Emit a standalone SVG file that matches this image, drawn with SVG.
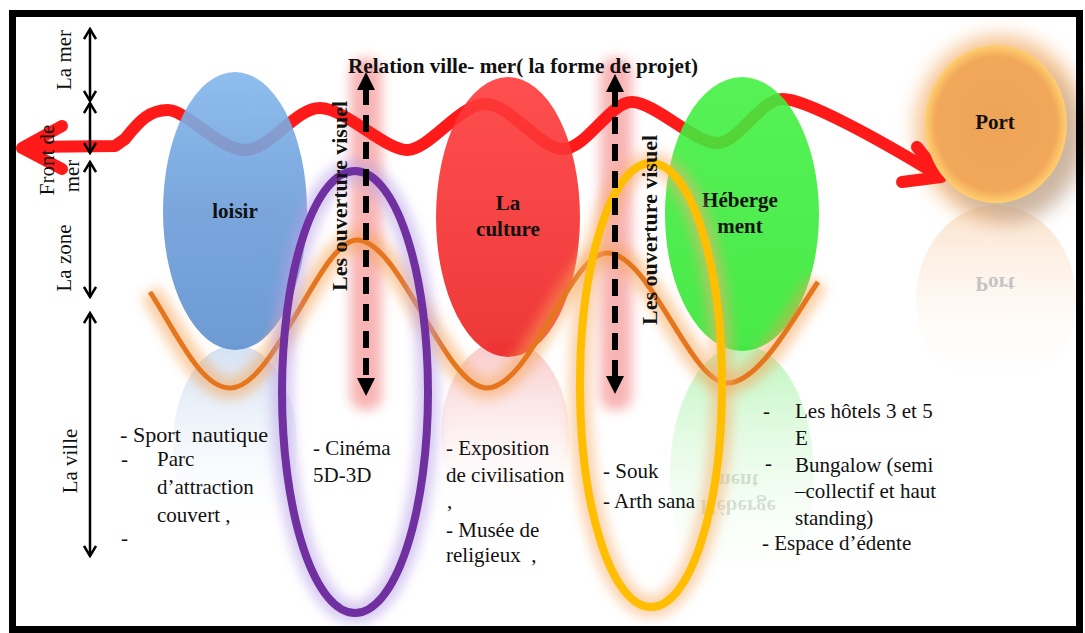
<svg xmlns="http://www.w3.org/2000/svg" width="1085" height="633" viewBox="0 0 1085 633">
<style>
.t{font-family:"Liberation Serif","Times New Roman",serif;font-size:21px;fill:#111;white-space:pre}
.b{font-weight:bold}
.lbl{font-family:"Liberation Serif","Times New Roman",serif;font-size:21px;font-weight:bold;fill:#111;text-anchor:middle}
.side{font-family:"Liberation Serif","Times New Roman",serif;font-size:21px;fill:#111;text-anchor:middle}
.dash{stroke:#000;stroke-width:6;stroke-dasharray:17 10;fill:none}
.va{stroke:#000;stroke-width:2.5;fill:none}
.mir{font-family:"Liberation Serif","Times New Roman",serif;font-size:21px;font-weight:bold;text-anchor:middle}
</style>
<defs>
<filter id="blur6" x="-50%" y="-50%" width="200%" height="200%"><feGaussianBlur stdDeviation="6"/></filter>
<filter id="blur10" x="-50%" y="-50%" width="200%" height="200%"><feGaussianBlur stdDeviation="10"/></filter>
<linearGradient id="gBlue" x1="0" y1="0" x2="0" y2="1"><stop offset="0" stop-color="#82b6ec"/><stop offset="0.5" stop-color="#6b9cd8"/><stop offset="1" stop-color="#5e90d0"/></linearGradient>
<linearGradient id="gRed" x1="0" y1="0" x2="0" y2="1"><stop offset="0" stop-color="#ff3b3b"/><stop offset="1" stop-color="#ec2222"/></linearGradient>
<linearGradient id="gGreen" x1="0" y1="0" x2="0" y2="1"><stop offset="0" stop-color="#3ff03f"/><stop offset="1" stop-color="#30e630"/></linearGradient>
<radialGradient id="gPort" cx="0.5" cy="0.5" r="0.5"><stop offset="0" stop-color="#eea456"/><stop offset="0.85" stop-color="#f2a85a"/><stop offset="1" stop-color="#ffd070"/></radialGradient>
<linearGradient id="rBlue" x1="0" y1="0" x2="0" y2="1"><stop offset="0" stop-color="#d3e1f3"/><stop offset="1" stop-color="#ffffff" stop-opacity="0"/></linearGradient>
<linearGradient id="rRed" x1="0" y1="0" x2="0" y2="1"><stop offset="0" stop-color="#f8c8c8"/><stop offset="1" stop-color="#ffffff" stop-opacity="0"/></linearGradient>
<linearGradient id="rGreen" x1="0" y1="0" x2="0" y2="1"><stop offset="0" stop-color="#bdf5bd"/><stop offset="1" stop-color="#ffffff" stop-opacity="0"/></linearGradient>
<linearGradient id="rPort" x1="0" y1="0" x2="0" y2="1"><stop offset="0" stop-color="#fbe2cc"/><stop offset="1" stop-color="#ffffff" stop-opacity="0"/></linearGradient>
<marker id="chev" viewBox="0 0 14 14" refX="12" refY="7" markerWidth="14" markerHeight="14" markerUnits="userSpaceOnUse" orient="auto-start-reverse"><path d="M2 1 L12 7 L2 13" fill="none" stroke="#000" stroke-width="2.5"/></marker>
<marker id="tri" viewBox="0 0 20 20" refX="2" refY="10" markerWidth="20" markerHeight="20" markerUnits="userSpaceOnUse" orient="auto-start-reverse"><path d="M0 1 L18 10 L0 19 Z" fill="#000"/></marker>
</defs>
<rect x="0" y="0" width="1085" height="633" fill="#fff"/>
<g id="reflections">
<ellipse cx="235" cy="445" rx="62" ry="100" fill="url(#rBlue)"/>
<ellipse cx="505" cy="435" rx="64" ry="95" fill="url(#rRed)"/>
<ellipse cx="742" cy="475" rx="72" ry="130" fill="url(#rGreen)"/>
<ellipse cx="996" cy="300" rx="80" ry="95" fill="url(#rPort)"/>
<g transform="translate(0,406) scale(1,-1)"><text class="mir" x="995" y="129" fill="#c4c4c4">Port</text></g>
<g transform="translate(0,702) scale(1,-1)" opacity="0.22"><text class="mir" x="738" y="202" fill="#5a7a5a">Héberge</text><text class="mir" x="736" y="228" fill="#5a7a5a">ment</text></g>
</g>
<g id="glows">
<rect x="350" y="58" width="32" height="352" rx="14" fill="#f05a5a" opacity="0.45" filter="url(#blur6)"/>
<rect x="600" y="58" width="32" height="352" rx="14" fill="#f05a5a" opacity="0.45" filter="url(#blur6)"/>
<ellipse cx="1000" cy="128" rx="84" ry="92" fill="#f3a65a" opacity="0.7" filter="url(#blur10)"/>
<ellipse cx="1012" cy="142" rx="70" ry="78" fill="#9aa6b8" opacity="0.45" filter="url(#blur10)"/>
</g>
<g id="connectors">
<path id="red-wave" d="M 28 147 L 115 146 L 125 139 C 140 120, 150 110, 168 110 S 220 150, 245 150 S 295 108, 320 108 S 385 150, 407 150 S 460 104, 485 104 S 540 149, 563 149 S 610 102, 632 102 S 695 143, 717 143 S 760 99, 783 99 C 806 99, 880 140, 936 174" fill="none" stroke="#ff1a1a" stroke-width="12" stroke-linejoin="round"/>
<path d="M 62 126 L 22 148 L 62 169" fill="none" stroke="#ff1a1a" stroke-width="12" stroke-linejoin="round" stroke-linecap="round"/>
<path d="M 917 147 L 941 177 L 902 182" fill="none" stroke="#ff1a1a" stroke-width="12" stroke-linejoin="round" stroke-linecap="round"/>
</g>
<g id="node-loisir">
<ellipse cx="235" cy="211" rx="72" ry="139" fill="url(#gBlue)" opacity="0.9"/>
<text class="lbl" x="235" y="218">loisir</text>
</g>
<g id="node-culture">
<ellipse cx="508" cy="217" rx="72" ry="140" fill="url(#gRed)" opacity="0.9"/>
<text class="lbl" x="508" y="210">La</text>
<text class="lbl" x="508" y="236">culture</text>
</g>
<g id="node-hebergement">
<ellipse cx="742" cy="214" rx="77" ry="137" fill="url(#gGreen)" opacity="0.88"/>
<text class="lbl" x="740" y="207">Héberge</text>
<text class="lbl" x="740" y="233">ment</text>
</g>
<g id="node-port">
<ellipse cx="996" cy="124" rx="71" ry="79" fill="url(#gPort)"/>
<text class="lbl" x="995" y="129">Port</text>
</g>
<g id="orange-wave">
<path d="M 150 292 C 175 330, 200 388, 230 388 C 275 388, 320 240, 357 240 C 400 240, 445 388, 487 388 C 530 388, 570 253, 607 253 C 650 253, 690 383, 727 383 C 760 383, 795 315, 818 282" fill="none" stroke="#f5a050" stroke-width="22" opacity="0.5" filter="url(#blur6)"/>
<path d="M 150 292 C 175 330, 200 388, 230 388 C 275 388, 320 240, 357 240 C 400 240, 445 388, 487 388 C 530 388, 570 253, 607 253 C 650 253, 690 383, 727 383 C 760 383, 795 315, 818 282" fill="none" stroke="#e6761e" stroke-width="5"/>
</g>
<g id="node-purple-loop">
<ellipse cx="355" cy="392" rx="73" ry="221" fill="none" stroke="#b8a0e6" stroke-width="22" opacity="0.55" filter="url(#blur6)"/>
<ellipse cx="355" cy="392" rx="73" ry="221" fill="none" stroke="#7030a0" stroke-width="8"/>
</g>
<g id="node-yellow-loop">
<ellipse cx="651" cy="385" rx="71" ry="222" fill="none" stroke="#f7b070" stroke-width="22" opacity="0.55" filter="url(#blur6)"/>
<ellipse cx="651" cy="385" rx="71" ry="222" fill="none" stroke="#ffbf00" stroke-width="8"/>
</g>
<g id="visual-arrows">
<line class="dash" x1="366" y1="88" x2="366" y2="380" marker-start="url(#tri)" marker-end="url(#tri)"/>
<line class="dash" x1="615" y1="90" x2="615" y2="378" marker-start="url(#tri)" marker-end="url(#tri)"/>
</g>
<g id="scale-arrows">
<line class="va" x1="90" y1="29" x2="90" y2="101" marker-start="url(#chev)" marker-end="url(#chev)"/>
<line class="va" x1="90" y1="103" x2="90" y2="153" marker-start="url(#chev)" marker-end="url(#chev)"/>
<line class="va" x1="90" y1="162" x2="90" y2="297" marker-start="url(#chev)" marker-end="url(#chev)"/>
<line class="va" x1="90" y1="313" x2="90" y2="556" marker-start="url(#chev)" marker-end="url(#chev)"/>
</g>
<g id="side-labels">
<text class="side" transform="translate(71,60) rotate(-90)">La mer</text>
<text class="side" transform="translate(54,160) rotate(-90)">Front de</text>
<text class="side" transform="translate(79,176) rotate(-90)">mer</text>
<text class="side" transform="translate(71,258) rotate(-90)">La zone</text>
<text class="side" transform="translate(77,461) rotate(-90)">La ville</text>
</g>
<g id="titles">
<text class="t b" x="348" y="73" textLength="350" lengthAdjust="spacingAndGlyphs">Relation ville- mer( la forme de projet)</text>
<text class="lbl" transform="translate(347,196) rotate(-90)" textLength="190" lengthAdjust="spacingAndGlyphs">Les ouverture visuel</text>
<text class="lbl" transform="translate(657,230) rotate(-90)" textLength="190" lengthAdjust="spacingAndGlyphs">Les ouverture visuel</text>
</g>
<g id="list-loisir">
<text class="t" x="120" y="442" textLength="148" lengthAdjust="spacingAndGlyphs">- Sport  nautique</text>
<text class="t" x="121" y="466">-</text>
<text class="t" x="157" y="466">Parc</text>
<text class="t" x="157" y="494">d’attraction</text>
<text class="t" x="157" y="522">couvert ,</text>
<text class="t" x="121" y="545">-</text>
</g>
<g id="list-cinema">
<text class="t" x="313" y="455">- Cinéma</text>
<text class="t" x="313" y="482">5D-3D</text>
</g>
<g id="list-culture">
<text class="t" x="446" y="455">- Exposition</text>
<text class="t" x="446" y="482">de civilisation</text>
<text class="t" x="447" y="508">,</text>
<text class="t" x="446" y="537">- Musée de</text>
<text class="t" x="446" y="562">religieux  ,</text>
</g>
<g id="list-souk">
<text class="t" x="603" y="478">- Souk</text>
<text class="t" x="603" y="508">- Arth sana</text>
</g>
<g id="list-hebergement">
<text class="t" x="763" y="418">-</text>
<text class="t" x="795" y="418">Les hôtels 3 et 5</text>
<text class="t" x="795" y="445">E</text>
<text class="t" x="765" y="470">-</text>
<text class="t" x="795" y="472">Bungalow (semi</text>
<text class="t" x="795" y="498">–collectif et haut</text>
<text class="t" x="795" y="525">standing)</text>
<text class="t" x="762" y="550">- Espace d’édente</text>
</g>
<rect x="12.5" y="13.5" width="1067" height="616" fill="none" stroke="#000" stroke-width="7"/>
</svg>
